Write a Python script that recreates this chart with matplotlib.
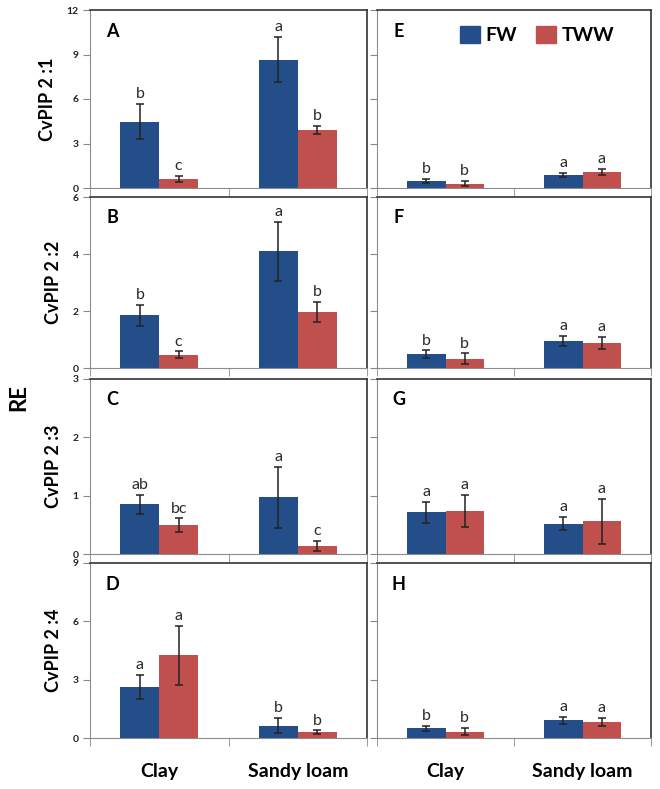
import numpy as np
import matplotlib.pyplot as plt
from matplotlib.patches import Patch

plt.rcParams['font.family'] = ['Lato', 'DejaVu Sans']

soils = ["Clay", "Sandy loam"]
genes = ["CvPIP 2 :1", "CvPIP 2 :2", "CvPIP 2 :3", "CvPIP 2 :4"]
ylims = [12, 6, 3, 9]
ysteps = [3, 2, 1, 3]

# left column (A-D): values, errors and letters, [Clay, Sandy loam]
fw_left = [[4.48, 8.65], [1.85, 4.09], [0.85, 0.97], [2.63, 0.64]]
fw_left_err = [[1.18, 1.53], [0.36, 1.05], [0.16, 0.53], [0.60, 0.38]]
tww_left = [[0.63, 3.94], [0.47, 1.97], [0.49, 0.14], [4.25, 0.29]]
tww_left_err = [[0.21, 0.27], [0.11, 0.35], [0.12, 0.08], [1.50, 0.10]]
fw_left_sig = [["b", "a"], ["b", "a"], ["ab", "a"], ["a", "b"]]
tww_left_sig = [["c", "b"], ["c", "b"], ["bc", "c"], ["a", "b"]]

# right column (E-H)
fw_right = [[0.46, 0.87], [0.49, 0.95], [0.72, 0.52], [0.50, 0.91]]
fw_right_err = [[0.14, 0.15], [0.13, 0.17], [0.18, 0.11], [0.13, 0.17]]
tww_right = [[0.30, 1.10], [0.32, 0.88], [0.74, 0.56], [0.33, 0.84]]
tww_right_err = [[0.17, 0.20], [0.19, 0.22], [0.28, 0.38], [0.17, 0.20]]
fw_right_sig = [["b", "a"], ["b", "a"], ["a", "a"], ["b", "a"]]
tww_right_sig = [["b", "a"], ["b", "a"], ["a", "a"], ["b", "a"]]

panel_left = ["A", "B", "C", "D"]
panel_right = ["E", "F", "G", "H"]

FW_COL = '#234E8A'
TWW_COL = '#C0504D'
W, H = 660, 789

fig = plt.figure(figsize=(W / 100, H / 100), dpi=100)

# pixel boxes (left, top, right, bottom)
rows = [(10, 188), (197, 368), (379, 554), (563, 738)]
cols = [(90, 367), (377, 651)]


def px_axes(x0, y0, x1, y1):
    return fig.add_axes([x0 / W, 1 - y1 / H, (x1 - x0) / W, (y1 - y0) / H])


def draw(ax, fw, fwe, tww, twwe, fws, twws, ymax, ystep, letter, labels_y, labels_x):
    x = np.arange(len(soils))
    w = 0.28
    ax.bar(x - w / 2, fw, w, color=FW_COL, zorder=2)
    ax.bar(x + w / 2, tww, w, color=TWW_COL, zorder=2)
    ax.errorbar(x - w / 2, fw, yerr=fwe, fmt='none', ecolor='#222222',
                elinewidth=1.1, capsize=2.6, capthick=1.1, zorder=3)
    ax.errorbar(x + w / 2, tww, yerr=twwe, fmt='none', ecolor='#222222',
                elinewidth=1.1, capsize=2.6, capthick=1.1, zorder=3)
    for xi, v, e, s in zip(x - w / 2, fw, fwe, fws):
        ax.annotate(s, (xi, v + e), xytext=(0, 2), textcoords='offset points',
                    ha='center', va='bottom', fontsize=11.5, color='#2a2a2a')
    for xi, v, e, s in zip(x + w / 2, tww, twwe, twws):
        ax.annotate(s, (xi, v + e), xytext=(0, 2), textcoords='offset points',
                    ha='center', va='bottom', fontsize=11.5, color='#2a2a2a')
    ax.set_xlim(-0.5, 1.5)
    ax.set_ylim(0, ymax)
    ticks = np.arange(0, ymax + 0.01, ystep)
    ax.set_yticks(ticks)
    if labels_y:
        ax.set_yticklabels([str(int(t)) for t in ticks],
                           fontsize=7.5, fontweight='bold', color='#222222')
    else:
        ax.set_yticklabels([])
    ax.tick_params(axis='y', direction='out', length=5, color='#888888', pad=3)
    ax.set_xticks(x)
    if labels_x:
        ax.set_xticklabels(soils, fontsize=14, fontweight='bold')
    else:
        ax.set_xticklabels([])
    ax.tick_params(axis='x', which='major', length=0, pad=18)
    ax.set_xticks([-0.5, 0.5, 1.5], minor=True)
    ax.tick_params(axis='x', which='minor', direction='out', length=6, color='#888888')
    for s in ['left', 'bottom']:
        ax.spines[s].set_color('#8c8c8c')
    for s in ['top', 'right']:
        ax.spines[s].set_color('#333333')
        ax.spines[s].set_linewidth(1.2)
    ax.text(0.08, 0.88, letter, transform=ax.transAxes, fontsize=13,
            fontweight='bold', ha='center', va='center')


for i, (y0, y1) in enumerate(rows):
    axl = px_axes(cols[0][0], y0, cols[0][1], y1)
    draw(axl, fw_left[i], fw_left_err[i], tww_left[i], tww_left_err[i],
         fw_left_sig[i], tww_left_sig[i], ylims[i], ysteps[i], panel_left[i],
         True, i == 3)
    axl.set_ylabel(genes[i], fontsize=13, fontweight='bold', labelpad=8)
    axr = px_axes(cols[1][0], y0, cols[1][1], y1)
    draw(axr, fw_right[i], fw_right_err[i], tww_right[i], tww_right_err[i],
         fw_right_sig[i], tww_right_sig[i], ylims[i], ysteps[i], panel_right[i],
         False, i == 3)
    if i == 0:
        axr.legend(handles=[Patch(color=FW_COL, label="FW"),
                            Patch(color=TWW_COL, label="TWW")],
                   loc='center right', bbox_to_anchor=(0.93, 0.86), ncol=2,
                   frameon=False, handlelength=1.0, handleheight=1.0,
                   handletextpad=0.3, columnspacing=1.0,
                   prop={'size': 14, 'weight': 'bold'})

fig.text(19 / W, 1 - 398 / H, "RE", rotation=90, fontsize=16,
         fontweight='bold', ha='center', va='center')

fig.savefig("out.png", dpi=100)
